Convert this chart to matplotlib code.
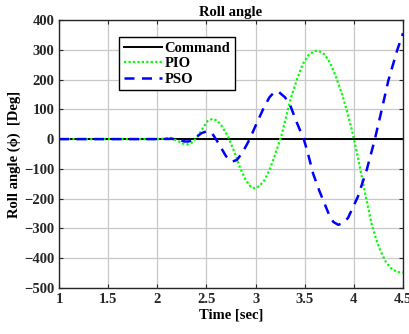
import numpy as np
import matplotlib
matplotlib.use('Agg')
import matplotlib.pyplot as plt

plt.rcParams['font.family'] = ['Liberation Serif', 'DejaVu Serif']
plt.rcParams['font.weight'] = 'bold'

# command signal
t_cmd = [1.0, 4.5]
cmd = [0, 0]

# PIO response
t_pio = [1.0, 2.0, 2.08, 2.14, 2.2, 2.26, 2.31, 2.36, 2.41, 2.46, 2.51, 2.56,
         2.61, 2.66, 2.72, 2.78, 2.84, 2.9, 2.95, 2.99, 3.04, 3.09, 3.14, 3.2,
         3.26, 3.3, 3.35, 3.42, 3.48, 3.54, 3.6, 3.64, 3.7, 3.76, 3.82, 3.88,
         3.93, 3.98, 4.04, 4.11, 4.18, 4.23, 4.27, 4.32, 4.37, 4.44, 4.5]
pio = [0, 0, 2, 4, -5, -15, -18, -10, 8, 35, 60, 68,
       62, 42, 8, -40, -95, -138, -160, -165, -158, -138, -105, -50,
       8, 60, 128, 200, 252, 283, 296, 297, 285, 255, 207, 150,
       94, 30, -60, -175, -285, -340, -375, -410, -432, -447, -448]

# PSO response
t_pso = [1.0, 2.0, 2.15, 2.22, 2.28, 2.32, 2.36, 2.4, 2.45, 2.51, 2.56, 2.6,
         2.65, 2.7, 2.76, 2.81, 2.86, 2.9, 2.94, 3.0, 3.08, 3.14, 3.19, 3.23,
         3.3, 3.35, 3.42, 3.49, 3.53, 3.585, 3.65, 3.74, 3.79, 3.84, 3.89, 3.94,
         4.04, 4.13, 4.21, 4.28, 4.35, 4.44, 4.5]
pso = [0, 0, 1, -3, -8, -8, -2, 8, 20, 27, 18, -2,
       -30, -58, -76, -70, -48, -25, 0, 45, 103, 140, 158, 160,
       140, 115, 55, 0, -45, -116, -175, -248, -278, -288, -282, -265,
       -194, -104, -5, 94, 196, 298, 356]

fig = plt.figure(figsize=(4.1, 3.34), dpi=100)
ax = fig.add_axes([0.144, 0.138, 0.839, 0.802])

ax.plot(t_cmd, cmd, color='black', lw=1.4, label='Command')
ax.plot(t_pio, pio, color=(0, 1, 0), lw=1.6, ls=(0, (1, 1)), label='PIO')
ax.plot(t_pso, pso, color=(0, 0, 1), lw=1.8, ls=(0, (4, 3)), label='PSO')

ax.set_xlim(1, 4.5)
ax.set_ylim(-500, 400)
ax.set_xticks(np.arange(1, 4.51, 0.5))
ax.set_xticklabels(['1', '1.5', '2', '2.5', '3', '3.5', '4', '4.5'])
ax.set_yticks(np.arange(-500, 401, 100))
ax.grid(True, color='#c8c8c8', lw=0.9)
ax.tick_params(direction='in', top=True, right=True, labelsize=10.5,
               colors='#262626', length=3)
for s in ax.spines.values():
    s.set_linewidth(1.0)
    s.set_color('#262626')

ax.set_title('Roll angle', fontsize=10.5, fontweight='bold', pad=3)
ax.set_xlabel('Time [sec]', fontsize=10.5, fontweight='bold', labelpad=2)
ax.set_ylabel('Roll angle (\u03d5)  [Deg]', fontsize=10.5, fontweight='bold', labelpad=2)

leg = ax.legend(loc='upper left', bbox_to_anchor=(0.175, 0.935), fontsize=10.5,
                fancybox=False, edgecolor='black', framealpha=1,
                handlelength=2.6, handletextpad=0.2, borderpad=0.3,
                labelspacing=0.15, borderaxespad=0)
leg.get_frame().set_linewidth(1.0)

fig.savefig('out.png', dpi=100)
